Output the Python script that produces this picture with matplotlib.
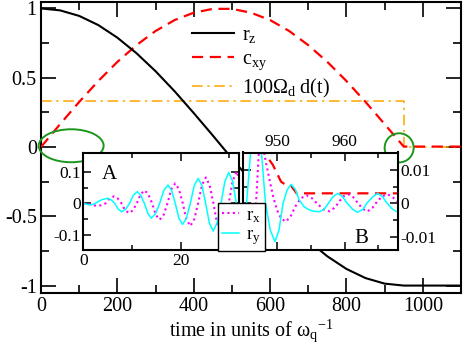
import numpy as np
import matplotlib
matplotlib.use("Agg")
import matplotlib.pyplot as plt
from matplotlib.patches import Ellipse
from matplotlib.lines import Line2D

plt.rcParams['font.family'] = 'Liberation Serif'
plt.rcParams['mathtext.fontset'] = 'custom'
plt.rcParams['mathtext.rm'] = 'Liberation Serif'
plt.rcParams['mathtext.it'] = 'Liberation Serif:italic'
plt.rcParams['axes.unicode_minus'] = False

# main panel: r_z, c_xy and the drive pulse
t_main = [0, 50, 100, 150, 200, 250, 300, 350, 400, 450, 500, 550, 600, 650,
          700, 750, 800, 850, 900, 950, 1100]
rz = [1.000, 0.986, 0.946, 0.880, 0.789, 0.677, 0.547, 0.402, 0.245, 0.083,
      -0.083, -0.245, -0.402, -0.547, -0.677, -0.789, -0.880, -0.946, -0.986,
      -1.000, -1.000]
cxy = [0.0, 0.165, 0.325, 0.476, 0.614, 0.735, 0.837, 0.916, 0.969, 0.997,
       0.997, 0.969, 0.916, 0.837, 0.735, 0.614, 0.476, 0.325, 0.165, 0.003,
       0.003]
t_drive = [0, 950, 950, 1100]
drive = [0.33, 0.33, 0.0, 0.0]

# inset A: start of the pulse
tA_y = [0, 0.7, 1.4, 2.3, 3.0, 3.9, 5.0, 5.7, 6.45, 7.2, 7.9, 8.7, 9.5, 10.3,
        11.1, 11.8, 12.55, 13.3, 14.0, 14.85, 15.7, 16.55, 17.4, 18.15, 18.9,
        19.65, 20.4, 21.2, 22.0, 22.8, 23.6, 24.4, 25.15, 25.9, 26.7, 27.5,
        28.3, 29.1, 29.9, 30.7, 31.45, 32.2]
ryA = [0, -0.003, -0.005, -0.002, 0.005, 0.012, 0.016, 0.011, 0, -0.019,
       -0.027, -0.019, 0, 0.026, 0.037, 0.026, 0, -0.033, -0.047, -0.033, 0,
       0.041, 0.058, 0.041, 0, -0.047, -0.067, -0.047, 0, 0.056, 0.079, 0.056,
       0, -0.062, -0.088, -0.062, 0, 0.069, 0.098, 0.069, 0, -0.076]
tA_x = [0, 0.8, 1.6, 2.3, 2.9, 3.7, 4.6, 5.45, 6.3, 7.05, 7.85, 8.6, 9.4, 10.2,
        11.0, 11.8, 12.6, 13.35, 14.15, 14.9, 15.7, 16.5, 17.3, 18.1, 18.9,
        19.65, 20.45, 21.2, 22.0, 22.8, 23.6, 24.4, 25.2, 25.95, 26.75, 27.5,
        28.3, 29.1, 29.9, 30.7, 31.5, 32.3]
rxA = [0, -0.001, -0.004, -0.007, -0.008, -0.006, 0, 0.016, 0.022, 0.016, 0,
       -0.022, -0.031, -0.022, 0, 0.029, 0.041, 0.029, 0, -0.037, -0.052,
       -0.037, 0, 0.045, 0.063, 0.045, 0, -0.051, -0.072, -0.051, 0, 0.058,
       0.082, 0.058, 0, -0.065, -0.092, -0.065, 0, 0.071, 0.101, 0.071]

# inset B: end of the pulse
tB_y = [944.0, 944.8, 945.5, 946.2, 946.9, 947.6, 948.3, 949.0, 949.7, 950.3,
        950.9, 951.5, 952.1, 952.7, 953.3, 954.0, 954.8, 955.5, 956.3, 957.0,
        957.7, 958.3, 959.0, 959.7, 960.4, 961.2, 961.9, 962.7, 963.4, 964.2,
        964.9, 965.6, 966.3, 967.0, 967.7, 968.2]
ryB = [-0.015, -0.012, 0.0, 0.018, 0.025, 0.018, 0.0, -0.008, -0.0115, -0.008,
       0.0, 0.004, 0.0057, 0.0042, 0.001, -0.001, -0.002, -0.0024, -0.0025,
       -0.0017, 0.0003, 0.002, 0.003, 0.002, 0.0, -0.0018, -0.0027, -0.0018,
       0.0003, 0.002, 0.003, 0.002, 0.0, -0.0016, -0.0025, -0.002]
tB_x = [944.0, 944.9, 945.8, 946.9, 947.5, 948.1, 948.9, 949.5, 950.0, 950.6,
        951.3, 952.0, 952.7, 953.5, 954.4, 955.2, 956.0, 956.9, 957.8, 958.6,
        959.3, 959.9, 960.6, 961.3, 962.0, 962.7, 963.4, 964.1, 964.8, 965.6,
        966.4, 967.2, 968.0]
rxB = [-0.022, -0.02, -0.012, 0.0, 0.022, 0.015, 0.007, 0.0015, -0.002,
       -0.0045, -0.0055, -0.004, -0.001, 0.0015, 0.0024, 0.0015, -0.0002,
       -0.0018, -0.0024, -0.0012, 0.0008, 0.0022, 0.0027, 0.0018, 0.0,
       -0.0017, -0.0024, -0.0014, 0.0005, 0.0022, 0.0027, 0.0017, 0.0]
tB_c = [946.0, 947.0, 948.2, 949.4, 950.6, 951.1, 951.9, 952.9, 968.0]
cxyB = [0.022, 0.019, 0.015, 0.0115, 0.0065, 0.0058, 0.0058, 0.003, 0.003]

W, H = 463, 358
fig = plt.figure(figsize=(W / 100, H / 100), dpi=100)
ax = fig.add_axes([41 / W, 1 - 292.5 / H, 420 / W, 291 / H])

ax.plot(t_drive, drive, color='#ffa500', lw=1.1, dashes=(7, 3, 1.5, 3), zorder=2)
ax.plot(t_main, cxy, color='red', lw=1.6, dashes=(5, 3), zorder=3)
ax.plot(t_main, rz, color='black', lw=1.5, zorder=4)

green = '#1c961c'
ax.add_patch(Ellipse((79, 0.009), 170, 0.238, fill=False, ec=green, lw=1.4,
                     clip_on=False, zorder=5))
ax.add_patch(Ellipse((938, -0.006), 76, 0.21, fill=False, ec=green, lw=1.4,
                     clip_on=False, zorder=5))

ax.set_xlim(0, 1100)
ax.set_ylim(-1.05, 1.05)
ax.set_xticks([0, 200, 400, 600, 800, 1000])
ax.set_xticks(np.arange(100, 1100, 200), minor=True)
ax.set_yticks([-1, -0.5, 0, 0.5, 1])
ax.set_yticklabels(['-1', '-0.5', '0', '0.5', '1'])
ax.set_yticks([-0.75, -0.25, 0.25, 0.75], minor=True)
ax.tick_params(which='both', direction='in', top=True, right=True,
               labelsize=14.5, width=1.2, pad=3)
ax.tick_params(which='major', length=11)
ax.tick_params(which='minor', length=5.5)
for s in ax.spines.values():
    s.set_linewidth(1.5)
ax.set_xlabel('time in units of ω$_\\mathrm{q}$$^\\mathrm{-1}$', fontsize=14.5,
              labelpad=1)

handles = [Line2D([], [], color='black', lw=1.5),
           Line2D([], [], color='red', lw=1.6, dashes=(5, 3)),
           Line2D([], [], color='#ffa500', lw=1.1, dashes=(7, 3, 1.5, 3))]
labels = ['r$_\\mathrm{z}$', 'c$_\\mathrm{xy}$', '100Ω$_\\mathrm{d}$ d(t)']
ax.legend(handles, labels, loc='upper left', bbox_to_anchor=(192 / W, 1 - 26 / H),
          bbox_transform=fig.transFigure, frameon=False, fontsize=14.5,
          handlelength=2.1, handletextpad=0.4, labelspacing=0.24,
          borderpad=0, borderaxespad=0)

# inset A
axA = fig.add_axes([83.3 / W, 1 - 250 / H, 155.2 / W, 97.5 / H])
axA.plot(tA_x, rxA, color='#ff00ff', lw=1.5, ls=(0, (1, 1.6)))
axA.plot(tA_y, ryA, color='#00ffff', lw=1.1)
axA.set_xlim(0, 31.9)
axA.set_ylim(-0.148, 0.161)
axA.set_xticks([0, 20])
axA.set_xticks([10, 30], minor=True)
axA.set_yticks([-0.1, 0, 0.1])
axA.set_yticklabels(['-0.1', '0', '0.1'])
axA.set_yticks([-0.05, 0.05], minor=True)
axA.tick_params(which='both', direction='in', top=True, right=True,
                labelsize=12.5, width=1.1, pad=2)
axA.tick_params(which='major', length=6)
axA.tick_params(which='minor', length=3.5)
for s in axA.spines.values():
    s.set_linewidth(1.5)
axA.text(5.3, 0.09, 'A', fontsize=15, ha='center', va='center')

# inset B
axB = fig.add_axes([242.5 / W, 1 - 250 / H, 155.5 / W, 97.5 / H])
axB.plot(tB_c, cxyB, color='red', lw=1.6, dashes=(5, 3))
axB.plot(tB_x, rxB, color='#ff00ff', lw=1.5, ls=(0, (1, 1.6)))
axB.plot(tB_y, ryB, color='#00ffff', lw=1.1)
axB.set_xlim(944.9, 967.9)
axB.set_ylim(-0.0140, 0.01525)
axB.set_xticks([950, 960])
axB.set_xticks([945, 955, 965], minor=True)
axB.set_yticks([-0.01, 0, 0.01])
axB.set_yticklabels(['-0.01', '0', '0.01'])
axB.set_yticks([-0.005, 0.005], minor=True)
axB.tick_params(which='both', direction='in', top=True, right=True,
                bottom=True, left=True, labeltop=True, labelbottom=False,
                labelright=True, labelleft=False, labelsize=12.5, width=1.1,
                pad=2)
axB.tick_params(which='major', length=6)
axB.tick_params(which='minor', length=3.5)
for s in axB.spines.values():
    s.set_linewidth(1.5)
axB.text(962.5, -0.0105, 'B', fontsize=15, ha='center', va='center')

hB = [Line2D([], [], color='#ff00ff', lw=1.5, ls=(0, (1, 1.6))),
      Line2D([], [], color='#00ffff', lw=1.1)]
legB = axB.legend(hB, ['r$_\\mathrm{x}$', 'r$_\\mathrm{y}$'], loc='upper left',
                  bbox_to_anchor=(218 / W, 1 - 203 / H),
                  bbox_transform=fig.transFigure, fontsize=13.5, fancybox=False,
                  framealpha=1, edgecolor='black', handlelength=0.9,
                  handletextpad=0.4, labelspacing=0.1, borderpad=0.2,
                  borderaxespad=0)
legB.get_frame().set_linewidth(1.0)

fig.savefig('out.png', dpi=100)
